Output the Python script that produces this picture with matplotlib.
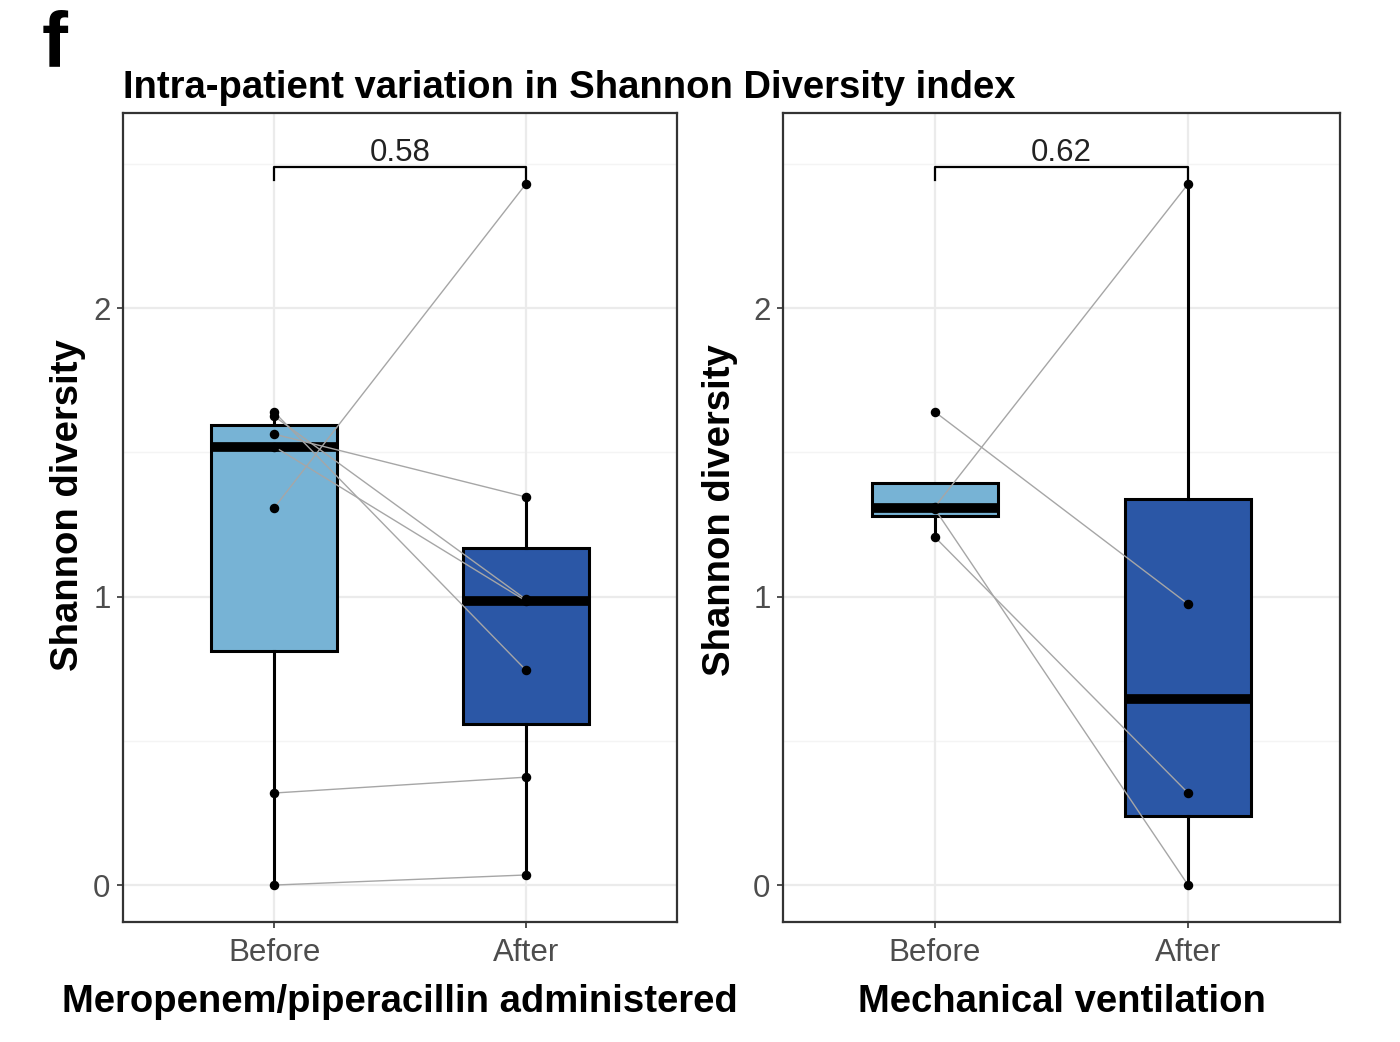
import matplotlib
matplotlib.use("Agg")
import matplotlib.pyplot as plt

plt.rcParams['font.family'] = ['Liberation Sans', 'DejaVu Sans']

groups = ['Before', 'After']
panel_titles = ['Meropenem/piperacillin administered', 'Mechanical ventilation']

# paired Shannon diversity values (same index = same patient)
before_abx = [1.64, 1.625, 1.563, 1.52, 1.307, 0.319, 0.0]
after_abx = [0.745, 0.99, 1.345, 0.985, 2.43, 0.374, 0.035]
before_vent = [1.64, 1.311, 1.303, 1.206]
after_vent = [0.974, 2.43, 0.0, 0.319]
p_values = ['0.58', '0.62']

fill_colors = ['#77B3D5', '#2B57A6']

W, H = 1400, 1042
fig = plt.figure(figsize=(W / 100, H / 100), dpi=100)

axes_px = [(123, 113, 677, 922), (783, 113, 1340, 922)]
ylabel_px = [(68, 505), (720, 510)]
data = [(before_abx, after_abx), (before_vent, after_vent)]

for (x0, y0, x1, y1), (lx, ly), (bef, aft), xlab, pval in zip(
        axes_px, ylabel_px, data, panel_titles, p_values):
    ax = fig.add_axes([x0 / W, 1 - y1 / H, (x1 - x0) / W, (y1 - y0) / H])
    ax.set_xlim(0.4, 2.6)
    ax.set_ylim(-0.128, 2.676)

    # grid (theme_bw style)
    for y in [0, 1, 2]:
        ax.axhline(y, color='#EBEBEB', lw=1.6, zorder=0)
    for y in [0.5, 1.5, 2.5]:
        ax.axhline(y, color='#F4F4F4', lw=1.0, zorder=0)
    for x in [1, 2]:
        ax.axvline(x, color='#EBEBEB', lw=1.6, zorder=0)

    bp = ax.boxplot([bef, aft], positions=[1, 2], widths=0.5, whis=1.5,
                    patch_artist=True, showfliers=False, showcaps=False,
                    boxprops=dict(linewidth=2.2, edgecolor='black'),
                    whiskerprops=dict(linewidth=2.2, color='black'),
                    medianprops=dict(linewidth=7, color='black'),
                    zorder=2)
    for patch, c in zip(bp['boxes'], fill_colors):
        patch.set_facecolor(c)

    # paired lines
    for b, a in zip(bef, aft):
        ax.plot([1, 2], [b, a], color='#A6A6A6', lw=1.0, zorder=3)
    ax.scatter([1] * len(bef), bef, s=34, color='black', zorder=4)
    ax.scatter([2] * len(aft), aft, s=34, color='black', zorder=4)

    # significance bracket
    ax.plot([1, 1, 2, 2], [2.445, 2.49, 2.49, 2.445], color='black', lw=1.6,
            zorder=4)
    ax.text(1.5, 2.51, pval, ha='center', va='baseline', fontsize=22.5,
            color='#222222')

    ax.set_xticks([1, 2])
    ax.set_xticklabels(groups, fontsize=22.5, color='#4D4D4D')
    ax.set_yticks([0, 1, 2])
    ax.set_yticklabels(['0', '1', '2'], fontsize=22.5, color='#4D4D4D')
    ax.tick_params(length=4, width=1.2, color='#333333', pad=5)
    ax.tick_params(axis='x', pad=7.5)
    for s in ax.spines.values():
        s.set_color('#333333')
        s.set_linewidth(1.6)
    ax.set_ylabel('Shannon diversity', fontsize=27.5, fontweight='bold',
                  va='center')
    ax.yaxis.set_label_coords((lx - x0) / (x1 - x0), (y1 - ly) / (y1 - y0))
    ax.set_xlabel(xlab, fontsize=27.5, fontweight='bold', va='center')
    ax.xaxis.set_label_coords(0.5, (y1 - 1002) / (y1 - y0))

fig.text(123 / W, 1 - 88 / H, 'Intra-patient variation in Shannon Diversity index',
         fontsize=27.5, fontweight='bold', ha='left', va='center')
fig.text(42 / W, 1 - 46 / H, 'f', fontsize=56, fontweight='bold',
         ha='left', va='center')

fig.savefig('out.png', dpi=100, facecolor='white')
